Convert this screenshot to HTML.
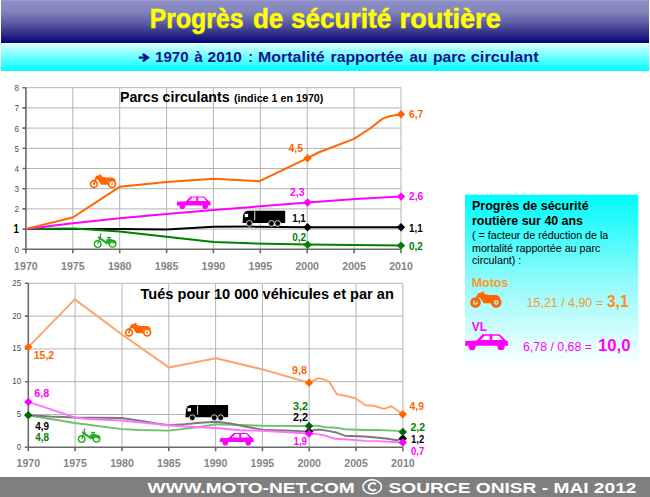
<!DOCTYPE html>
<html><head><meta charset="utf-8">
<style>
html,body{margin:0;padding:0;background:#fff;}
body{width:650px;height:497px;overflow:hidden;position:relative;font-family:"Liberation Sans", sans-serif;}
svg{position:absolute;left:0;top:0;}
svg text{font-family:"Liberation Sans", sans-serif;}
</style></head><body>
<svg width="650" height="497" viewBox="0 0 650 497">
<defs>
<linearGradient id="hd" x1="0" y1="0" x2="0" y2="1">
<stop offset="0" stop-color="#a2a2d4"/>
<stop offset="0.04" stop-color="#8c8cc6"/>
<stop offset="0.25" stop-color="#8686be"/>
<stop offset="0.5" stop-color="#6262a6"/>
<stop offset="0.75" stop-color="#34348c"/>
<stop offset="0.94" stop-color="#10107a"/>
<stop offset="1" stop-color="#000080"/>
</linearGradient>
<linearGradient id="cy" x1="0" y1="0" x2="0" y2="1">
<stop offset="0" stop-color="#d8ffff"/>
<stop offset="1" stop-color="#00ffff"/>
</linearGradient>
<linearGradient id="pn" x1="0" y1="0" x2="0" y2="1">
<stop offset="0" stop-color="#00fbfb"/>
<stop offset="0.5" stop-color="#90fafa"/>
<stop offset="1" stop-color="#ffffff"/>
</linearGradient>
</defs>
<rect x="1" y="0" width="648" height="43" fill="url(#hd)"/>
<rect x="1" y="43.5" width="648" height="27.5" fill="url(#cy)"/>
<g font-size="27" font-weight="bold" fill="#ffff00" stroke="#ffff00" stroke-width="0.5"><text x="149.8" y="28.4" textLength="93.7" lengthAdjust="spacingAndGlyphs">Progrès</text><text x="253" y="28.4" textLength="30.3" lengthAdjust="spacingAndGlyphs">de</text><text x="291" y="28.4" textLength="100.2" lengthAdjust="spacingAndGlyphs">sécurité</text><text x="399.6" y="28.4" textLength="101.2" lengthAdjust="spacingAndGlyphs">routière</text></g>
<path d="M138.8 57.6 H145.5 M142.8 54 L147.8 57.6 L142.8 61.2" fill="none" stroke="#12128e" stroke-width="2.4" stroke-linejoin="miter"/>
<g font-size="15" font-weight="bold" fill="#12128e"><text x="155.0" y="61.7" textLength="33.6" lengthAdjust="spacingAndGlyphs">1970</text><text x="194.3" y="61.7" textLength="8.5" lengthAdjust="spacingAndGlyphs">à</text><text x="207.6" y="61.7" textLength="34.2" lengthAdjust="spacingAndGlyphs">2010</text><text x="248.6" y="61.7" textLength="4.3" lengthAdjust="spacingAndGlyphs">:</text><text x="258.0" y="61.7" textLength="66.6" lengthAdjust="spacingAndGlyphs">Mortalité</text><text x="330.6" y="61.7" textLength="72.6" lengthAdjust="spacingAndGlyphs">rapportée</text><text x="409.6" y="61.7" textLength="17.8" lengthAdjust="spacingAndGlyphs">au</text><text x="433.0" y="61.7" textLength="33" lengthAdjust="spacingAndGlyphs">parc</text><text x="470.8" y="61.7" textLength="67.9" lengthAdjust="spacingAndGlyphs">circulant</text></g>
<g id="top">
<path d="M25.9 229.1H401.0 M25.9 208.9H401.0 M25.9 188.7H401.0 M25.9 168.5H401.0 M25.9 148.3H401.0 M25.9 128.1H401.0 M25.9 107.9H401.0 M25.9 87.7H401.0 M72.8 87.7V249.3 M119.7 87.7V249.3 M166.6 87.7V249.3 M213.4 87.7V249.3 M260.3 87.7V249.3 M307.2 87.7V249.3 M354.1 87.7V249.3 M401.0 87.7V249.3" stroke="#b4b4b4" stroke-width="1" fill="none"/>
<path d="M25.9 87.7V253.3 M25.9 249.3H401.0 M22.5 249.3H25.9 M22.5 229.1H25.9 M22.5 208.9H25.9 M22.5 188.7H25.9 M22.5 168.5H25.9 M22.5 148.3H25.9 M22.5 128.1H25.9 M22.5 107.9H25.9 M22.5 87.7H25.9 M25.9 249.3V253.3 M72.8 249.3V253.3 M119.7 249.3V253.3 M166.6 249.3V253.3 M213.4 249.3V253.3 M260.3 249.3V253.3 M307.2 249.3V253.3 M354.1 249.3V253.3 M401.0 249.3V253.3" stroke="#6a6a6a" stroke-width="1.6" fill="none"/>
<text x="18.9" y="252.7" font-size="9.6" fill="#4a4a66" text-anchor="end" textLength="4.5" lengthAdjust="spacingAndGlyphs">0</text>
<text x="18.8" y="233.4" font-size="12.5" font-weight="bold" fill="#000" text-anchor="end" textLength="5.4" lengthAdjust="spacingAndGlyphs">1</text>
<text x="18.9" y="212.3" font-size="9.6" fill="#4a4a66" text-anchor="end" textLength="4.5" lengthAdjust="spacingAndGlyphs">2</text>
<text x="18.9" y="192.1" font-size="9.6" fill="#4a4a66" text-anchor="end" textLength="4.5" lengthAdjust="spacingAndGlyphs">3</text>
<text x="18.9" y="171.9" font-size="9.6" fill="#4a4a66" text-anchor="end" textLength="4.5" lengthAdjust="spacingAndGlyphs">4</text>
<text x="18.9" y="151.7" font-size="9.6" fill="#4a4a66" text-anchor="end" textLength="4.5" lengthAdjust="spacingAndGlyphs">5</text>
<text x="18.9" y="131.5" font-size="9.6" fill="#4a4a66" text-anchor="end" textLength="4.5" lengthAdjust="spacingAndGlyphs">6</text>
<text x="18.9" y="111.3" font-size="9.6" fill="#4a4a66" text-anchor="end" textLength="4.5" lengthAdjust="spacingAndGlyphs">7</text>
<text x="18.9" y="91.1" font-size="9.6" fill="#4a4a66" text-anchor="end" textLength="4.5" lengthAdjust="spacingAndGlyphs">8</text>
<text x="25.9" y="269.6" font-size="11" font-weight="bold" fill="#848484" text-anchor="middle" textLength="23.6" lengthAdjust="spacingAndGlyphs">1970</text>
<text x="72.8" y="269.6" font-size="11" font-weight="bold" fill="#848484" text-anchor="middle" textLength="23.6" lengthAdjust="spacingAndGlyphs">1975</text>
<text x="119.7" y="269.6" font-size="11" font-weight="bold" fill="#848484" text-anchor="middle" textLength="23.6" lengthAdjust="spacingAndGlyphs">1980</text>
<text x="166.6" y="269.6" font-size="11" font-weight="bold" fill="#848484" text-anchor="middle" textLength="23.6" lengthAdjust="spacingAndGlyphs">1985</text>
<text x="213.4" y="269.6" font-size="11" font-weight="bold" fill="#848484" text-anchor="middle" textLength="23.6" lengthAdjust="spacingAndGlyphs">1990</text>
<text x="260.3" y="269.6" font-size="11" font-weight="bold" fill="#848484" text-anchor="middle" textLength="23.6" lengthAdjust="spacingAndGlyphs">1995</text>
<text x="307.2" y="269.6" font-size="11" font-weight="bold" fill="#848484" text-anchor="middle" textLength="23.6" lengthAdjust="spacingAndGlyphs">2000</text>
<text x="354.1" y="269.6" font-size="11" font-weight="bold" fill="#848484" text-anchor="middle" textLength="23.6" lengthAdjust="spacingAndGlyphs">2005</text>
<text x="401.0" y="269.6" font-size="11" font-weight="bold" fill="#848484" text-anchor="middle" textLength="23.6" lengthAdjust="spacingAndGlyphs">2010</text>
<text x="120" y="102.3" font-size="14" font-weight="bold" fill="#000" textLength="109.6" lengthAdjust="spacingAndGlyphs">Parcs circulants</text>
<text x="234" y="102.3" font-size="10.6" font-weight="bold" fill="#000" textLength="89.4" lengthAdjust="spacingAndGlyphs">(indice 1 en 1970)</text>
<polyline points="25.9,228.9 119.6,229.0 166.5,229.4 213.5,226.8 250.0,226.6 307.6,227.2 401.0,227.2" stroke="#000" stroke-width="2.0" fill="none" stroke-linejoin="round"/>
<polyline points="25.9,228.9 72.8,228.6 90.0,229.6 119.6,231.5 166.5,236.8 213.5,241.9 250.0,243.3 307.6,244.6 401.0,245.6" stroke="#008000" stroke-width="2.0" fill="none" stroke-linejoin="round"/>
<polyline points="25.9,228.9 72.8,223.3 119.6,218.3 166.5,214.0 213.5,209.9 260.4,206.3 307.6,202.5 355.4,199.0 401.0,196.6" stroke="#ff00ff" stroke-width="2.0" fill="none" stroke-linejoin="round"/>
<polyline points="25.9,228.9 72.8,217.5 119.6,186.8 166.5,182.0 213.5,178.8 259.5,181.2 307.6,158.2 318.4,152.5 354.0,138.9 370.0,128.5 382.7,118.6 389.5,116.2 401.0,114.3" stroke="#ff6600" stroke-width="2.0" fill="none" stroke-linejoin="round"/>
<path d="M303.4 158.2L307.6 154.0L311.8 158.2L307.6 162.4Z" fill="#ff6600"/>
<path d="M396.8 114.3L401.0 110.1L405.2 114.3L401.0 118.5Z" fill="#ff6600"/>
<path d="M303.4 202.5L307.6 198.3L311.8 202.5L307.6 206.7Z" fill="#ff00ff"/>
<path d="M396.8 196.6L401.0 192.4L405.2 196.6L401.0 200.8Z" fill="#ff00ff"/>
<path d="M303.4 227.2L307.6 223.0L311.8 227.2L307.6 231.4Z" fill="#000"/>
<path d="M396.8 227.2L401.0 223.0L405.2 227.2L401.0 231.4Z" fill="#000"/>
<path d="M303.4 244.8L307.6 240.6L311.8 244.8L307.6 249.0Z" fill="#008000"/>
<path d="M396.8 245.6L401.0 241.4L405.2 245.6L401.0 249.8Z" fill="#008000"/>
<text x="288.5" y="151.6" font-size="11" font-weight="bold" fill="#ff6600" textLength="14.6" lengthAdjust="spacingAndGlyphs">4,5</text>
<text x="409" y="118.3" font-size="11" font-weight="bold" fill="#ff6600" textLength="14.2" lengthAdjust="spacingAndGlyphs">6,7</text>
<text x="290" y="195.6" font-size="11" font-weight="bold" fill="#ff00ff" textLength="14.4" lengthAdjust="spacingAndGlyphs">2,3</text>
<text x="409" y="199.8" font-size="11" font-weight="bold" fill="#ff00ff" textLength="14.2" lengthAdjust="spacingAndGlyphs">2,6</text>
<text x="292.2" y="221.8" font-size="11" font-weight="bold" fill="#000" textLength="13.6" lengthAdjust="spacingAndGlyphs">1,1</text>
<text x="409" y="231.5" font-size="11" font-weight="bold" fill="#000" textLength="13.6" lengthAdjust="spacingAndGlyphs">1,1</text>
<text x="292.2" y="240.8" font-size="11" font-weight="bold" fill="#008000" textLength="13.8" lengthAdjust="spacingAndGlyphs">0,2</text>
<text x="409" y="249.8" font-size="11" font-weight="bold" fill="#008000" textLength="13.8" lengthAdjust="spacingAndGlyphs">0,2</text>
</g>
<g id="bot">
<path d="M28.3 414.5H402.9 M28.3 381.7H402.9 M28.3 348.9H402.9 M28.3 316.1H402.9 M28.3 283.3H402.9 M75.1 283.3V447.3 M122.0 283.3V447.3 M168.8 283.3V447.3 M215.6 283.3V447.3 M262.4 283.3V447.3 M309.2 283.3V447.3 M356.1 283.3V447.3 M402.9 283.3V447.3" stroke="#b4b4b4" stroke-width="1" fill="none"/>
<path d="M28.3 283.3V451.3 M28.3 447.3H402.9 M24.8 447.3H28.3 M24.8 414.5H28.3 M24.8 381.7H28.3 M24.8 348.9H28.3 M24.8 316.1H28.3 M24.8 283.3H28.3 M28.3 447.3V451.3 M75.1 447.3V451.3 M122.0 447.3V451.3 M168.8 447.3V451.3 M215.6 447.3V451.3 M262.4 447.3V451.3 M309.2 447.3V451.3 M356.1 447.3V451.3 M402.9 447.3V451.3" stroke="#6a6a6a" stroke-width="1.6" fill="none"/>
<text x="21.2" y="449.8" font-size="9.6" fill="#4a4a66" text-anchor="end" textLength="4.5" lengthAdjust="spacingAndGlyphs">0</text>
<text x="21.2" y="417.0" font-size="9.6" fill="#4a4a66" text-anchor="end" textLength="4.5" lengthAdjust="spacingAndGlyphs">5</text>
<text x="21.2" y="384.2" font-size="9.6" fill="#4a4a66" text-anchor="end" textLength="9.0" lengthAdjust="spacingAndGlyphs">10</text>
<text x="21.2" y="351.4" font-size="9.6" fill="#4a4a66" text-anchor="end" textLength="9.0" lengthAdjust="spacingAndGlyphs">15</text>
<text x="21.2" y="318.6" font-size="9.6" fill="#4a4a66" text-anchor="end" textLength="9.0" lengthAdjust="spacingAndGlyphs">20</text>
<text x="21.2" y="285.8" font-size="9.6" fill="#4a4a66" text-anchor="end" textLength="9.0" lengthAdjust="spacingAndGlyphs">25</text>
<text x="28.3" y="467" font-size="11" font-weight="bold" fill="#848484" text-anchor="middle" textLength="23.6" lengthAdjust="spacingAndGlyphs">1970</text>
<text x="75.1" y="467" font-size="11" font-weight="bold" fill="#848484" text-anchor="middle" textLength="23.6" lengthAdjust="spacingAndGlyphs">1975</text>
<text x="122.0" y="467" font-size="11" font-weight="bold" fill="#848484" text-anchor="middle" textLength="23.6" lengthAdjust="spacingAndGlyphs">1980</text>
<text x="168.8" y="467" font-size="11" font-weight="bold" fill="#848484" text-anchor="middle" textLength="23.6" lengthAdjust="spacingAndGlyphs">1985</text>
<text x="215.6" y="467" font-size="11" font-weight="bold" fill="#848484" text-anchor="middle" textLength="23.6" lengthAdjust="spacingAndGlyphs">1990</text>
<text x="262.4" y="467" font-size="11" font-weight="bold" fill="#848484" text-anchor="middle" textLength="23.6" lengthAdjust="spacingAndGlyphs">1995</text>
<text x="309.2" y="467" font-size="11" font-weight="bold" fill="#848484" text-anchor="middle" textLength="23.6" lengthAdjust="spacingAndGlyphs">2000</text>
<text x="356.1" y="467" font-size="11" font-weight="bold" fill="#848484" text-anchor="middle" textLength="23.6" lengthAdjust="spacingAndGlyphs">2005</text>
<text x="402.9" y="467" font-size="11" font-weight="bold" fill="#848484" text-anchor="middle" textLength="23.6" lengthAdjust="spacingAndGlyphs">2010</text>
<text x="140.5" y="299.1" font-size="14" font-weight="bold" fill="#000" textLength="253.3" lengthAdjust="spacingAndGlyphs">Tués pour 10 000 véhicules et par an</text>
<polyline points="28.3,415.3 74.9,423.0 121.8,429.1 140.0,430.0 168.6,430.6 197.0,427.4 216.0,424.3 240.0,425.0 262.5,425.8 309.0,426.0 317.9,425.6 325.3,427.2 337.3,427.7 344.7,429.3 365.0,430.0 378.5,430.0 397.0,430.9 402.7,431.9" stroke="#70c070" stroke-width="1.9" fill="none" stroke-linejoin="round"/>
<polyline points="28.3,415.1 50.0,416.5 74.9,417.5 121.8,418.0 140.0,420.8 155.0,423.3 168.6,425.1 184.6,424.3 197.0,423.0 216.0,421.8 229.0,423.3 240.0,425.5 254.5,428.3 262.5,429.6 291.4,430.8 309.0,431.6 314.2,430.0 318.9,429.5 328.0,430.9 337.3,432.8 344.7,435.7 365.0,436.5 385.9,438.5 397.0,440.2 402.7,438.5" stroke="#7a7a7a" stroke-width="1.9" fill="none" stroke-linejoin="round"/>
<polyline points="28.3,401.9 74.9,417.4 85.0,418.8 121.8,420.5 168.6,425.3 184.6,426.5 216.0,428.0 229.0,429.2 240.0,430.2 262.5,430.8 309.0,433.5 314.2,433.9 323.5,435.1 335.5,438.8 344.7,439.2 365.0,440.9 378.5,441.1 397.0,442.2 402.7,442.5" stroke="#ff70ff" stroke-width="1.9" fill="none" stroke-linejoin="round"/>
<polyline points="28.3,347.1 74.8,299.4 122.0,334.5 168.8,367.4 216.0,358.3 262.5,369.4 309.0,382.8 318.5,378.1 324.0,379.4 329.5,382.2 336.9,394.2 346.2,396.0 355.4,398.2 365.5,405.2 373.8,405.8 384.0,408.9 391.4,406.2 403.2,414.5" stroke="#ffa36c" stroke-width="2" fill="none" stroke-linejoin="round"/>
<path d="M24.1 347.1L28.3 342.9L32.5 347.1L28.3 351.3Z" fill="#ff6600"/>
<path d="M304.8 382.8L309.0 378.6L313.2 382.8L309.0 387.0Z" fill="#ff6600"/>
<path d="M398.6 414.3L402.8 410.1L407.0 414.3L402.8 418.5Z" fill="#ff6600"/>
<path d="M24.1 401.9L28.3 397.7L32.5 401.9L28.3 406.1Z" fill="#ff00ff"/>
<path d="M24.1 415.2L28.3 411.0L32.5 415.2L28.3 419.4Z" fill="#006400"/>
<path d="M398.6 438.5L402.8 434.3L407.0 438.5L402.8 442.7Z" fill="#000"/>
<path d="M304.8 431.6L309.0 427.4L313.2 431.6L309.0 435.8Z" fill="#000"/>
<path d="M304.8 426.0L309.0 421.8L313.2 426.0L309.0 430.2Z" fill="#006400"/>
<path d="M398.6 431.9L402.8 427.7L407.0 431.9L402.8 436.1Z" fill="#006400"/>
<path d="M304.8 433.6L309.0 429.4L313.2 433.6L309.0 437.8Z" fill="#ff00ff"/>
<path d="M398.6 442.5L402.8 438.3L407.0 442.5L402.8 446.7Z" fill="#ff00ff"/>
<text x="33.8" y="359" font-size="11" font-weight="bold" fill="#ff6600" textLength="20.4" lengthAdjust="spacingAndGlyphs">15,2</text>
<text x="292" y="373.8" font-size="11" font-weight="bold" fill="#ff6600" textLength="15" lengthAdjust="spacingAndGlyphs">9,8</text>
<text x="409.6" y="410" font-size="11" font-weight="bold" fill="#ff6600" textLength="14.4" lengthAdjust="spacingAndGlyphs">4,9</text>
<text x="34.2" y="397" font-size="11" font-weight="bold" fill="#ff00ff" textLength="15" lengthAdjust="spacingAndGlyphs">6,8</text>
<text x="35.2" y="429.8" font-size="11" font-weight="bold" fill="#000" textLength="13.8" lengthAdjust="spacingAndGlyphs">4,9</text>
<text x="35.2" y="440.8" font-size="11" font-weight="bold" fill="#008000" textLength="13.8" lengthAdjust="spacingAndGlyphs">4,8</text>
<text x="293" y="410" font-size="11" font-weight="bold" fill="#008000" textLength="15" lengthAdjust="spacingAndGlyphs">3,2</text>
<text x="293" y="420.5" font-size="11" font-weight="bold" fill="#000" textLength="15" lengthAdjust="spacingAndGlyphs">2,2</text>
<text x="293.5" y="445" font-size="11" font-weight="bold" fill="#ff00ff" textLength="13.5" lengthAdjust="spacingAndGlyphs">1,9</text>
<text x="410.5" y="430.5" font-size="11" font-weight="bold" fill="#008000" textLength="14.5" lengthAdjust="spacingAndGlyphs">2,2</text>
<text x="411" y="443.3" font-size="11" font-weight="bold" fill="#000" textLength="13.2" lengthAdjust="spacingAndGlyphs">1,2</text>
<text x="411" y="455.3" font-size="11" font-weight="bold" fill="#ff00ff" textLength="13.2" lengthAdjust="spacingAndGlyphs">0,7</text>
</g>
<rect x="465" y="194.7" width="173.3" height="172" fill="url(#pn)"/>
<text x="472" y="209.6" font-size="12.4" font-weight="bold" fill="#000" textLength="116.6" lengthAdjust="spacingAndGlyphs">Progrès de sécurité</text>
<text x="472" y="224.6" font-size="12.4" font-weight="bold" fill="#000" textLength="111" lengthAdjust="spacingAndGlyphs">routière sur 40 ans</text>
<text x="472" y="238.9" font-size="10.7" fill="#000" textLength="136.3" lengthAdjust="spacingAndGlyphs">( = facteur de réduction de la</text>
<text x="472" y="251.6" font-size="10.7" fill="#000">mortalité rapportée au parc</text>
<text x="472" y="264.3" font-size="10.7" fill="#000">circulant) :</text>
<text x="471.7" y="286.7" font-size="12.4" font-weight="bold" fill="#f39a2c" textLength="36.6" lengthAdjust="spacingAndGlyphs">Motos</text>
<text x="526.6" y="307" font-size="12.4" fill="#f39a2c" textLength="76.4" lengthAdjust="spacingAndGlyphs">15,21 / 4,90 =</text>
<text x="607" y="307" font-size="17" font-weight="bold" fill="#ff8c1a" textLength="21.5" lengthAdjust="spacingAndGlyphs">3,1</text>
<text x="471.7" y="331" font-size="12.4" font-weight="bold" fill="#ff00ff" textLength="15.3" lengthAdjust="spacingAndGlyphs">VL</text>
<text x="523" y="351" font-size="12.4" fill="#ff00ff" textLength="69" lengthAdjust="spacingAndGlyphs">6,78 / 0,68 =</text>
<text x="598" y="351" font-size="16.8" font-weight="bold" fill="#ff00ff" textLength="32.6" lengthAdjust="spacingAndGlyphs">10,0</text>
<g transform="translate(93.9,184) scale(1.0)" fill="#ff6600">
<circle cx="0" cy="0" r="3.4" fill="none" stroke="#ff6600" stroke-width="1.7"/>
<circle cx="0" cy="0" r="0.9"/>
<circle cx="18.2" cy="0" r="3.4" fill="none" stroke="#ff6600" stroke-width="1.7"/>
<circle cx="18.2" cy="0" r="0.9"/>
<path d="M0 0 L2.2 -6.5" stroke="#ff6600" stroke-width="1.8"/>
<path d="M1.85 -7.9 L5.2 -8.8 L6.5 -9.7 L8 -9.2 L7.1 -7.9 L9.5 -7 L12 -6.6 L18.8 -6.5 L21.3 -4.8 L21.9 -2.3 L16.9 -3.3 L14.5 -3 L14.5 0.75 L7.1 0.75 L5.5 -2 L4 -4.2 L1.85 -4.8 Z"/>
</g>
<g transform="translate(176.8,205.6) scale(1.0)" fill="#ff00ff">
<path d="M0.3 -3.9 L9.1 -4.3 L13.9 -9.1 L27.1 -9.1 L32.4 -4.3 L33.6 -3.9 L34 -0.2 L0 -0.2 Z"/>
<path d="M12.1 -4.6 L15.5 -8 L19.4 -8 L19.4 -4.6 Z M21.4 -8 L26.6 -8 L29.6 -4.6 L21.4 -4.6 Z" fill="#fff"/>
<circle cx="5.6" cy="0.6" r="2.8"/>
<circle cx="28.4" cy="0.6" r="2.8"/>
</g>
<g transform="translate(242.6,210.8) scale(1.0)" fill="#000">
<path d="M0 12.2 L0.4 5 Q0.8 2.6 2.2 1.2 Q3.6 0 6 0 L42.6 0 L42.6 12.2 Z"/>
<rect x="2.1" y="3" width="3.4" height="3.3" fill="#fff"/>
<rect x="11.7" y="0.4" width="0.9" height="9" fill="#fff"/>
<g stroke="#fff" stroke-width="0.8">
<circle cx="6.8" cy="12.6" r="2.9"/>
<circle cx="28.8" cy="12.6" r="2.9"/>
<circle cx="35.1" cy="12.6" r="2.9"/>
</g>
</g>
<g transform="translate(97.7,244.1) scale(1.0)" fill="#22aa22" stroke="#22aa22">
<circle cx="0" cy="0" r="3.3" fill="none" stroke-width="1.4"/>
<circle cx="14.9" cy="-0.3" r="3.3" fill="none" stroke-width="1.4"/>
<path d="M0 0 L1.8 -5.5" fill="none" stroke-width="1.2"/>
<path d="M3.1 -10.6 L2.2 -6.8" fill="none" stroke-width="1.3"/>
<path d="M0.2 -6.9 L3.8 -6.1" fill="none" stroke-width="1.5"/>
<path d="M1.5 -6.3 L8.8 -1.2" fill="none" stroke-width="2.1"/>
<path d="M8.8 -4.6 L13 -4.8 L16.8 -3.4 L17.6 -1.2 L16.6 -0.6 L14 -1.8 L11.5 -0.2 L8.4 -0.4 Z" stroke-width="0.6"/>
<path d="M9.3 -6.7 L13.4 -6.5" fill="none" stroke-width="1.3"/>
<path d="M11.3 -6.2 L11.3 -4.2" fill="none" stroke-width="1.2"/>
</g>
<g transform="translate(129,332.5) scale(1.0)" fill="#ff6600">
<circle cx="0" cy="0" r="3.4" fill="none" stroke="#ff6600" stroke-width="1.7"/>
<circle cx="0" cy="0" r="0.9"/>
<circle cx="18.2" cy="0" r="3.4" fill="none" stroke="#ff6600" stroke-width="1.7"/>
<circle cx="18.2" cy="0" r="0.9"/>
<path d="M0 0 L2.2 -6.5" stroke="#ff6600" stroke-width="1.8"/>
<path d="M1.85 -7.9 L5.2 -8.8 L6.5 -9.7 L8 -9.2 L7.1 -7.9 L9.5 -7 L12 -6.6 L18.8 -6.5 L21.3 -4.8 L21.9 -2.3 L16.9 -3.3 L14.5 -3 L14.5 0.75 L7.1 0.75 L5.5 -2 L4 -4.2 L1.85 -4.8 Z"/>
</g>
<g transform="translate(185.5,405.1) scale(1.0)" fill="#000">
<path d="M0 12.2 L0.4 5 Q0.8 2.6 2.2 1.2 Q3.6 0 6 0 L42.6 0 L42.6 12.2 Z"/>
<rect x="2.1" y="3" width="3.4" height="3.3" fill="#fff"/>
<rect x="11.7" y="0.4" width="0.9" height="9" fill="#fff"/>
<g stroke="#fff" stroke-width="0.8">
<circle cx="6.8" cy="12.6" r="2.9"/>
<circle cx="28.8" cy="12.6" r="2.9"/>
<circle cx="35.1" cy="12.6" r="2.9"/>
</g>
</g>
<g transform="translate(81.7,439.1) scale(1.0)" fill="#22aa22" stroke="#22aa22">
<circle cx="0" cy="0" r="3.3" fill="none" stroke-width="1.4"/>
<circle cx="14.9" cy="-0.3" r="3.3" fill="none" stroke-width="1.4"/>
<path d="M0 0 L1.8 -5.5" fill="none" stroke-width="1.2"/>
<path d="M3.1 -10.6 L2.2 -6.8" fill="none" stroke-width="1.3"/>
<path d="M0.2 -6.9 L3.8 -6.1" fill="none" stroke-width="1.5"/>
<path d="M1.5 -6.3 L8.8 -1.2" fill="none" stroke-width="2.1"/>
<path d="M8.8 -4.6 L13 -4.8 L16.8 -3.4 L17.6 -1.2 L16.6 -0.6 L14 -1.8 L11.5 -0.2 L8.4 -0.4 Z" stroke-width="0.6"/>
<path d="M9.3 -6.7 L13.4 -6.5" fill="none" stroke-width="1.3"/>
<path d="M11.3 -6.2 L11.3 -4.2" fill="none" stroke-width="1.2"/>
</g>
<g transform="translate(219.8,442.1) scale(1.0)" fill="#ff00ff">
<path d="M0.3 -3.9 L9.1 -4.3 L13.9 -9.1 L27.1 -9.1 L32.4 -4.3 L33.6 -3.9 L34 -0.2 L0 -0.2 Z"/>
<path d="M12.1 -4.6 L15.5 -8 L19.4 -8 L19.4 -4.6 Z M21.4 -8 L26.6 -8 L29.6 -4.6 L21.4 -4.6 Z" fill="#fff"/>
<circle cx="5.6" cy="0.6" r="2.8"/>
<circle cx="28.4" cy="0.6" r="2.8"/>
</g>
<g transform="translate(475.5,302.5) scale(1.14)" fill="#ff6600">
<circle cx="0" cy="0" r="3.4" fill="none" stroke="#ff6600" stroke-width="2.6"/>
<circle cx="0" cy="0" r="0.9"/>
<circle cx="18.2" cy="0" r="3.4" fill="none" stroke="#ff6600" stroke-width="2.6"/>
<circle cx="18.2" cy="0" r="0.9"/>
<path d="M0 0 L2.2 -6.5" stroke="#ff6600" stroke-width="1.8"/>
<path d="M1.85 -7.9 L5.2 -8.8 L6.5 -9.7 L8 -9.2 L7.1 -7.9 L9.5 -7 L12 -6.6 L18.8 -6.5 L21.3 -4.8 L21.9 -2.3 L16.9 -3.3 L14.5 -3 L14.5 0.75 L7.1 0.75 L5.5 -2 L4 -4.2 L1.85 -4.8 Z"/>
</g>
<g transform="translate(465,345.9) scale(1.27)" fill="#ff00ff">
<path d="M0.3 -3.9 L9.1 -4.3 L13.9 -9.1 L27.1 -9.1 L32.4 -4.3 L33.6 -3.9 L34 -0.2 L0 -0.2 Z"/>
<path d="M12.1 -4.6 L15.5 -8 L19.4 -8 L19.4 -4.6 Z M21.4 -8 L26.6 -8 L29.6 -4.6 L21.4 -4.6 Z" fill="#fff"/>
<circle cx="5.6" cy="0.6" r="2.8"/>
<circle cx="28.4" cy="0.6" r="2.8"/>
</g>
<rect x="0" y="477" width="650" height="20" fill="#7f7f7f"/>
<text x="147.4" y="493" font-size="14.5" font-weight="bold" fill="#fff" textLength="207.4" lengthAdjust="spacingAndGlyphs">WWW.MOTO-NET.COM</text>
<ellipse cx="372.2" cy="486.8" rx="9.3" ry="7" fill="none" stroke="#fff" stroke-width="1.5"/>
<path d="M376 484.3 A4.2 3.6 0 1 0 376 489.3" fill="none" stroke="#fff" stroke-width="2"/>
<text x="388.5" y="493" font-size="14.5" font-weight="bold" fill="#fff" textLength="248" lengthAdjust="spacingAndGlyphs">SOURCE ONISR - MAI 2012</text>
</svg>
</body></html>
